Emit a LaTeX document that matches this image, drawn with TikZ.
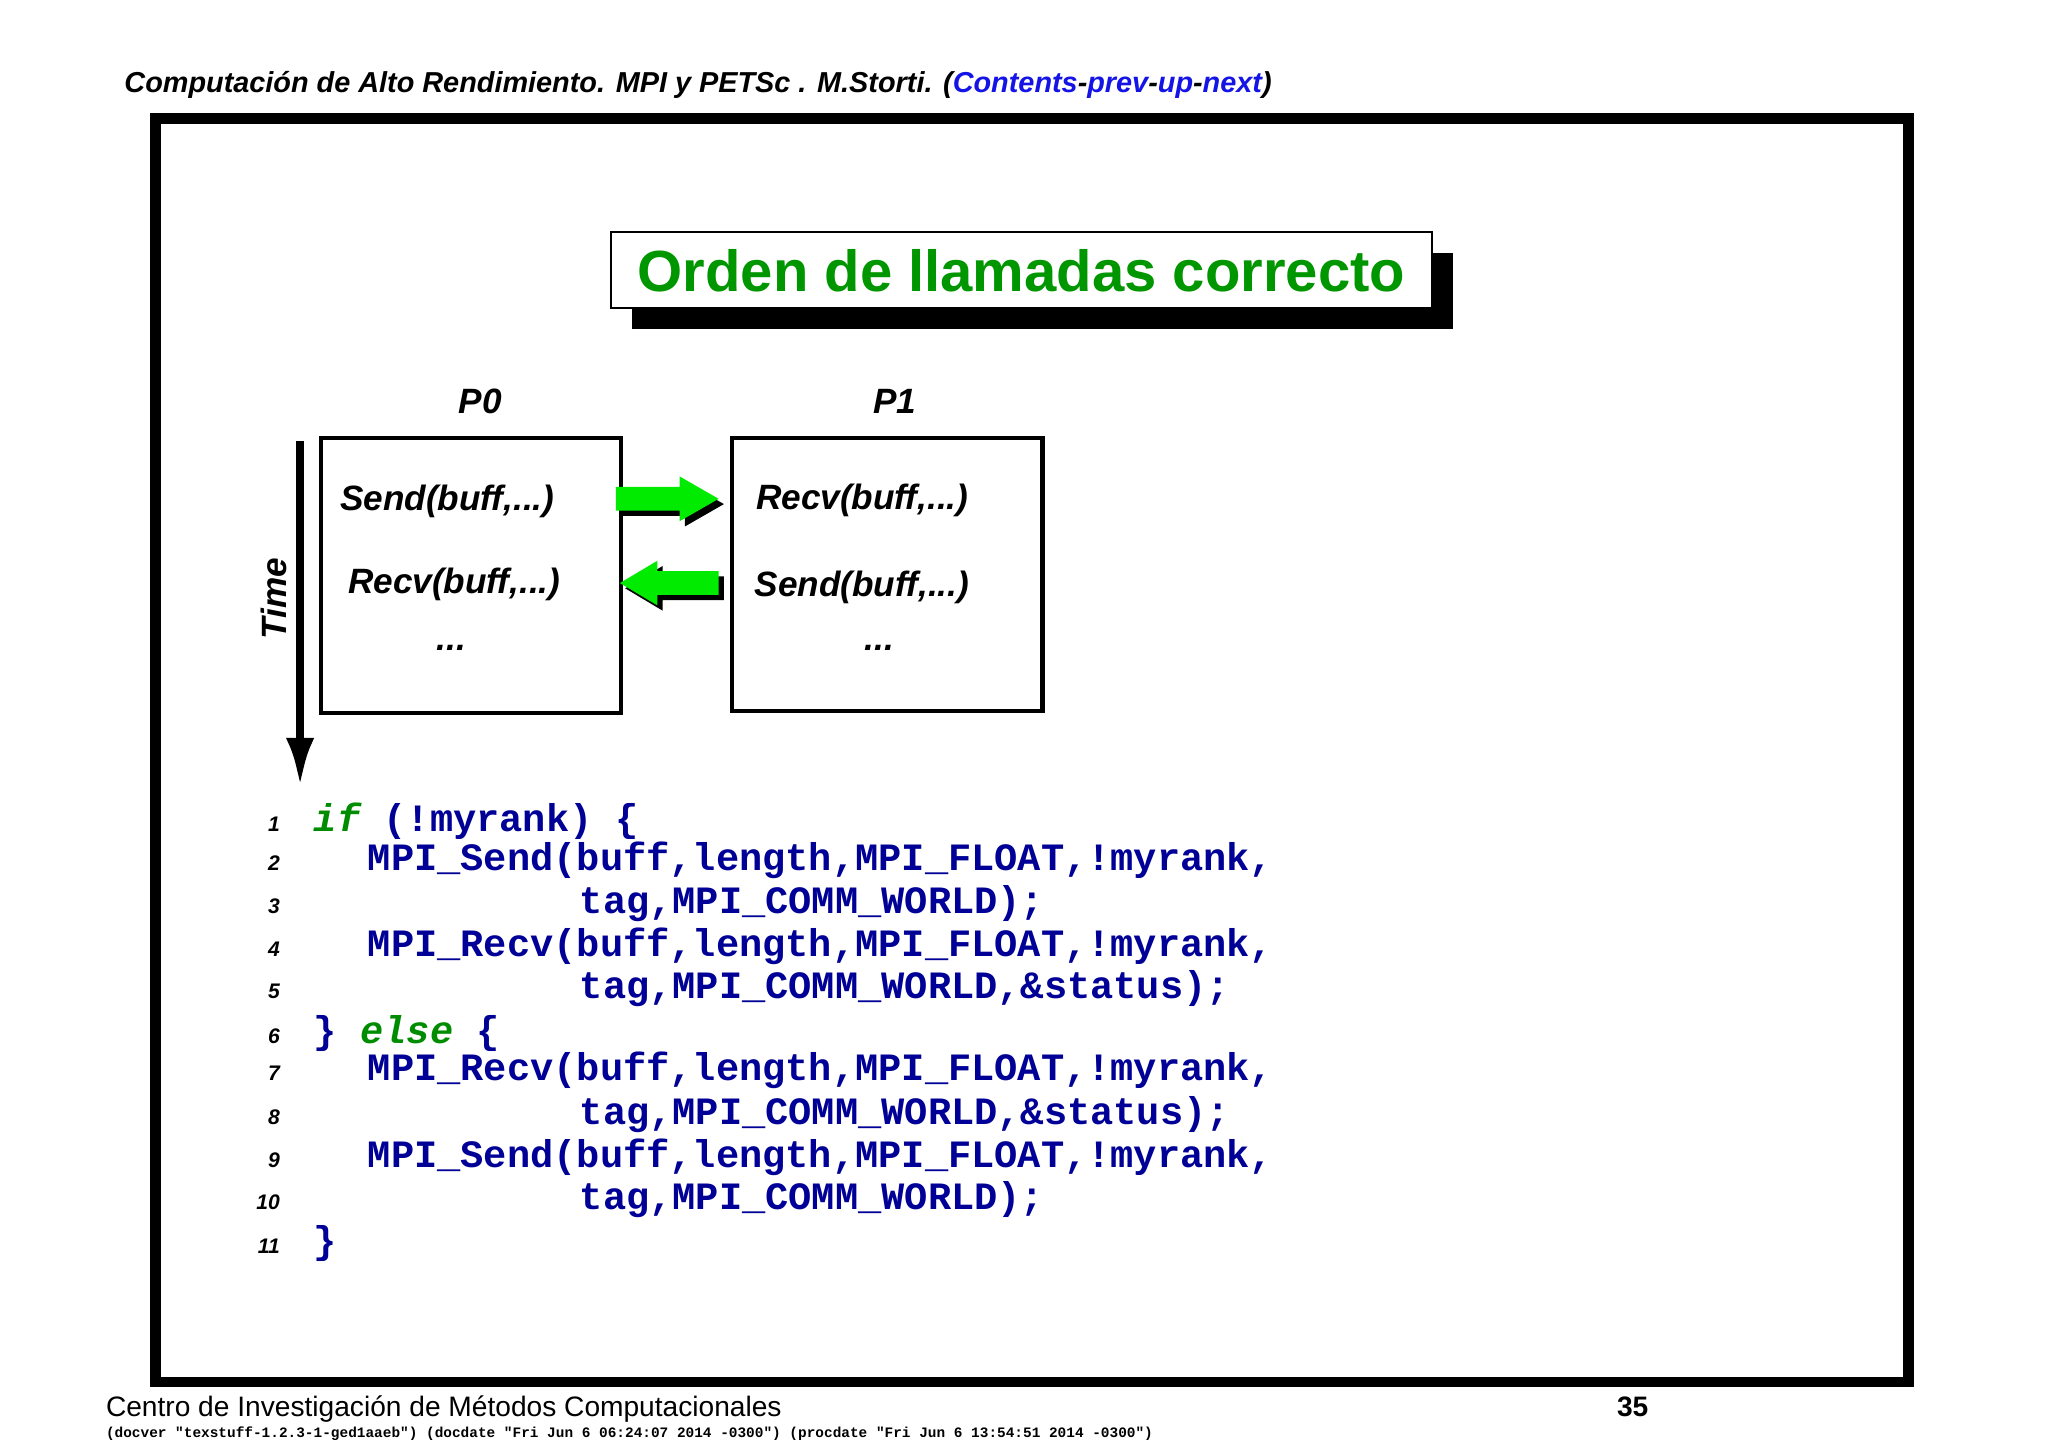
\documentclass[tikz,border=0pt]{standalone}
\usepackage{fontspec}
\setmainfont{Liberation Sans}
\setmonofont{Liberation Mono}
\usetikzlibrary{arrows.meta}
\definecolor{codeblue}{RGB}{0,0,150}
\definecolor{kwgreen}{RGB}{0,140,0}
\definecolor{titlegreen}{RGB}{0,150,0}
\definecolor{arrowgreen}{RGB}{0,235,0}
\definecolor{linkblue}{RGB}{20,20,230}
\tikzset{
  procbox/.style={draw, line width=1.2pt},
  call/.style={font=\fontsize{10pt}{12pt}\selectfont\bfseries\itshape, anchor=west},
  plabel/.style={font=\fontsize{10pt}{12pt}\selectfont\bfseries\itshape},
  lnum/.style={font=\fontsize{6pt}{7pt}\selectfont\bfseries\itshape, anchor=base east},
  code/.style={font=\fontsize{11pt}{12pt}\selectfont\ttfamily\bfseries, text=codeblue, anchor=base west, inner sep=0pt},
}
\newcommand{\kw}[1]{\textcolor{kwgreen}{\itshape #1}}
% block arrow: tail x, tip x, y
\newcommand{\blockarrow}[3]{%
  \fill[black, shift={(4,4)}] (#1,#3-9) -- ({#1+(#2-#1)*0.62},#3-9) -- ({#1+(#2-#1)*0.62},#3-17)
     -- (#2,#3) -- ({#1+(#2-#1)*0.62},#3+17) -- ({#1+(#2-#1)*0.62},#3+9) -- (#1,#3+9) -- cycle;
  \fill[arrowgreen] (#1,#3-9) -- ({#1+(#2-#1)*0.62},#3-9) -- ({#1+(#2-#1)*0.62},#3-17)
     -- (#2,#3) -- ({#1+(#2-#1)*0.62},#3+17) -- ({#1+(#2-#1)*0.62},#3+9) -- (#1,#3+9) -- cycle;}
\begin{document}
\begin{tikzpicture}[x=0.01316cm, y=-0.01316cm]
\useasboundingbox (0,0) rectangle (1556,1100);
% header
\node[anchor=base west, inner sep=0pt, font=\fontsize{8.2pt}{10pt}\selectfont\bfseries\itshape] (head) at (94,70)
  {Computación de Alto Rendimiento. MPI y PETSc . M.Storti. (\textcolor{linkblue}{Contents}-\textcolor{linkblue}{prev}-\textcolor{linkblue}{up}-\textcolor{linkblue}{next})};
% frame
\draw[line width=3pt] (118,90) rectangle (1450,1050);
% title
\fill (480,192) rectangle (1104,250);
\draw[fill=white, line width=0.5pt] (464,176) rectangle (1088,234);
\node[font=\fontsize{16.5pt}{20pt}\selectfont\bfseries, text=titlegreen] (title) at (776,206) {Orden de llamadas correcto};
% processes
\node[plabel] (p0) at (365,305) {P0};
\node[plabel] (p1) at (680,305) {P1};
\draw[procbox] (244,333) rectangle (472,542);
\draw[procbox] (556,333) rectangle (792,540);
\node[call] (s0) at (249,381) {Send(buff,...)};
\node[call] (r0) at (255,444) {Recv(buff,...)};
\node[plabel] (d0) at (343,492) {...};
\node[call] (r1) at (565,380) {Recv(buff,...)};
\node[call] (s1) at (564,446) {Send(buff,...)};
\node[plabel] (d1) at (668,492) {...};
\blockarrow{468}{546}{379}
\blockarrow{546}{471}{443}
% time axis
\coordinate (t0) at (228,335);
\coordinate (t1) at (228,598);
\draw[line width=2.5pt, -{Latex[length=14pt,width=8pt]}] (t0) -- (t1);
\node[plabel, rotate=90] (time) at (208,455) {Time};
% code
\foreach \n/\y in {1/632,2/661,3/694,4/727,5/759,6/793,7/821,8/854,9/887,10/919,11/952}
  \node[lnum] (n\n) at (222,\y) {\n};
\node[code] (l1) at (238,632) {\kw{if} (!myrank) \{};
\node[code] (l2) at (279,661) {MPI\_Send(buff,length,MPI\_FLOAT,!myrank,};
\node[code] (l3) at (440,694) {tag,MPI\_COMM\_WORLD);};
\node[code] (l4) at (279,727) {MPI\_Recv(buff,length,MPI\_FLOAT,!myrank,};
\node[code] (l5) at (440,759) {tag,MPI\_COMM\_WORLD,\&status);};
\node[code] (l6) at (238,793) {\} \kw{else} \{};
\node[code] (l7) at (279,821) {MPI\_Recv(buff,length,MPI\_FLOAT,!myrank,};
\node[code] (l8) at (440,854) {tag,MPI\_COMM\_WORLD,\&status);};
\node[code] (l9) at (279,887) {MPI\_Send(buff,length,MPI\_FLOAT,!myrank,};
\node[code] (l10) at (440,919) {tag,MPI\_COMM\_WORLD);};
\node[code] (l11) at (238,952) {\}};
% footer
\node[anchor=base west, inner sep=0pt, font=\fontsize{8pt}{10pt}\selectfont] (foot) at (80,1076) {Centro de Investigación de Métodos Computacionales};
\node[anchor=base west, inner sep=0pt, font=\fontsize{8pt}{10pt}\selectfont\bfseries] (page) at (1228,1076) {35};
\node[anchor=base west, inner sep=0pt, font=\fontsize{4.1pt}{5pt}\selectfont\ttfamily\bfseries] (ver) at (80,1092)
  {(docver "texstuff-1.2.3-1-ged1aaeb") (docdate "Fri Jun 6 06:24:07 2014 -0300") (procdate "Fri Jun 6 13:54:51 2014 -0300")};
\end{tikzpicture}
\end{document}
